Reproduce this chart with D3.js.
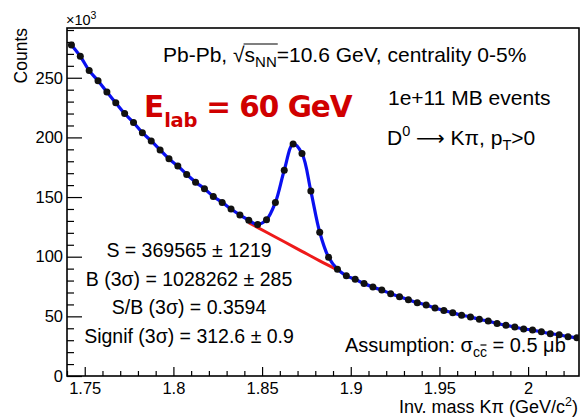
<!DOCTYPE html>
<html>
<head>
<meta charset="utf-8">
<script src="https://cdn.jsdelivr.net/npm/d3@7"></script>
<style>
  html, body { margin: 0; padding: 0; background: #fff; }
  svg { display: block; }
  text { font-family: "Liberation Sans", Arial, Helvetica, sans-serif; fill: #000; }
</style>
</head>
<body>
<svg id="chart" width="580" height="417"></svg>
<script>
// Invariant-mass bin centres (GeV/c^2), bin width 0.005
const massBins = [
  1.7425, 1.7475, 1.7525, 1.7575, 1.7625, 1.7675, 1.7725, 1.7775, 1.7825, 1.7875,
  1.7925, 1.7975, 1.8025, 1.8075, 1.8125, 1.8175, 1.8225, 1.8275, 1.8325, 1.8375,
  1.8425, 1.8475, 1.8525, 1.8575, 1.8625, 1.8675, 1.8725, 1.8775, 1.8825, 1.8875,
  1.8925, 1.8975, 1.9025, 1.9075, 1.9125, 1.9175, 1.9225, 1.9275, 1.9325, 1.9375,
  1.9425, 1.9475, 1.9525, 1.9575, 1.9625, 1.9675, 1.9725, 1.9775, 1.9825, 1.9875,
  1.9925, 1.9975, 2.0025, 2.0075, 2.0125, 2.0175, 2.0225, 2.0275
];
// Counts per bin, in units of 10^3
const counts = [
  277.5, 268.0, 256.0, 247.5, 238.0, 229.0, 220.0, 212.5, 204.0, 197.0,
  189.5, 182.0, 176.0, 169.0, 162.5, 157.0, 150.5, 145.5, 140.0, 135.0,
  130.5, 127.0, 131.0, 145.5, 172.5, 194.5, 186.5, 155.0, 120.5, 99.5,
  89.5, 84.0, 81.0, 77.5, 74.5, 72.0, 69.0, 66.5, 64.0, 61.5,
  59.5, 57.0, 55.0, 53.0, 51.0, 49.5, 47.5, 46.0, 44.0, 42.5,
  41.0, 39.5, 38.5, 37.0, 35.5, 34.5, 33.0, 32.0
];
// Combinatorial background under the peak (units of 10^3)
const bkgMass   = [1.8425, 1.8525, 1.8625, 1.8725, 1.8825, 1.8925];
const bkgCounts = [128.5, 120.5, 112.5, 104.5, 96.5, 89.0];

const xMajorTicks = [1.75, 1.8, 1.85, 1.9, 1.95, 2.0];
const xTickLabels = ["1.75", "1.8", "1.85", "1.9", "1.95", "2"];
const yMajorTicks = [0, 50, 100, 150, 200, 250];
const yTickLabels = ["0", "50", "100", "150", "200", "250"];

const statLines = [
  "S = 369565 \u00B1 1219",
  "B (3\u03C3) = 1028262 \u00B1 285",
  "S/B (3\u03C3) = 0.3594",
  "Signif (3\u03C3) = 312.6 \u00B1 0.9"
];

const svg = d3.select("#chart");
const frame = { left: 67, right: 579, top: 28, bottom: 376 };

const x = d3.scaleLinear().domain([1.74, 2.0287]).range([frame.left, frame.right]);
const y = d3.scaleLinear().domain([0, 291.7]).range([frame.bottom, frame.top]);

// ---- axes -------------------------------------------------------------
const xMinor = d3.range(174, 203).map(v => v / 100).filter(v => !xMajorTicks.some(m => Math.abs(m - v) < 1e-6));
const yMinor = d3.range(0, 292, 10).filter(v => v % 50 !== 0);

const gx = svg.append("g").attr("transform", `translate(0,${frame.bottom})`);
gx.call(d3.axisBottom(x).tickValues(xMinor).tickSizeInner(-5).tickSizeOuter(0).tickFormat(""));
gx.call(g => g.selectAll(".domain").remove());
const gx2 = svg.append("g").attr("transform", `translate(0,${frame.bottom})`);
gx2.call(d3.axisBottom(x).tickValues(xMajorTicks).tickSizeInner(-9).tickSizeOuter(0)
  .tickPadding(6).tickFormat((d, i) => xTickLabels[i]));
gx2.call(g => g.selectAll(".domain").remove());
gx2.selectAll("text").style("font-size", "16.5px").style("font-family", "Liberation Sans, Arial, sans-serif").attr("fill", "#000");

const gy = svg.append("g").attr("transform", `translate(${frame.left},0)`);
gy.call(d3.axisLeft(y).tickValues(yMinor).tickSizeInner(-7).tickSizeOuter(0).tickFormat(""));
gy.call(g => g.selectAll(".domain").remove());
const gy2 = svg.append("g").attr("transform", `translate(${frame.left},0)`);
gy2.call(d3.axisLeft(y).tickValues(yMajorTicks).tickSizeInner(-15).tickSizeOuter(0)
  .tickPadding(4).tickFormat((d, i) => yTickLabels[i]));
gy2.call(g => g.selectAll(".domain").remove());
gy2.selectAll("text").style("font-size", "16.5px").style("font-family", "Liberation Sans, Arial, sans-serif").attr("fill", "#000");

svg.selectAll(".tick line").attr("stroke", "#000").attr("stroke-width", 1.2);

// frame
svg.append("rect")
  .attr("x", frame.left).attr("y", frame.top)
  .attr("width", frame.right - frame.left).attr("height", frame.bottom - frame.top)
  .attr("fill", "none").attr("stroke", "#000").attr("stroke-width", 1.6);

// ---- data -------------------------------------------------------------
svg.append("defs").append("clipPath").attr("id", "plotClip")
  .append("rect").attr("x", frame.left).attr("y", frame.top)
  .attr("width", frame.right - frame.left).attr("height", frame.bottom - frame.top);
const plot = svg.append("g").attr("clip-path", "url(#plotClip)");

const bkgLine = d3.line()
  .x((d, i) => x(bkgMass[i])).y(d => y(d))
  .curve(d3.curveCatmullRom.alpha(0.5));
plot.append("path").datum(bkgCounts)
  .attr("d", bkgLine)
  .attr("fill", "none").attr("stroke", "#ee1a1a").attr("stroke-width", 3);

const fitLine = d3.line()
  .x((d, i) => x(massBins[i])).y(d => y(d))
  .curve(d3.curveCatmullRom.alpha(0.5));
plot.append("path").datum(counts)
  .attr("d", fitLine)
  .attr("fill", "none").attr("stroke", "#0a10f0").attr("stroke-width", 3.2)
  .attr("stroke-linejoin", "round");

plot.selectAll("circle.pt").data(counts).enter().append("circle")
  .attr("class", "pt")
  .attr("cx", (d, i) => x(massBins[i])).attr("cy", d => y(d))
  .attr("r", 3.5).attr("fill", "#111");

// ---- axis titles ------------------------------------------------------
svg.append("text")
  .attr("transform", `translate(27,${frame.top}) rotate(-90)`)
  .attr("text-anchor", "end").style("font-size", "17.5px").text("Counts");

const exp = svg.append("text").attr("x", 66).attr("y", 25).style("font-size", "14.5px");
exp.append("tspan").text("\u00D710");
exp.append("tspan").attr("dy", -6).style("font-size", "10.5px").text("3");

const xt = svg.append("text").attr("x", 578).attr("y", 413)
  .attr("text-anchor", "end").style("font-size", "18px");
xt.append("tspan").text("Inv. mass K\u03C0 (GeV/c");
xt.append("tspan").attr("dy", -7).style("font-size", "12.5px").text("2");
xt.append("tspan").attr("dy", 7).text(")");

// ---- annotations ------------------------------------------------------
const t1 = svg.append("text").attr("x", 163).attr("y", 62).style("font-size", "21px");
t1.append("tspan").text("Pb-Pb, ");
t1.append("tspan").text("\u221A");
t1.append("tspan").text("s");
t1.append("tspan").attr("dy", 5).style("font-size", "15px").text("NN");
t1.append("tspan").attr("dy", -5).text("=10.6 GeV, centrality 0-5%");
{
  const n = t1.node();
  const x0 = n.getEndPositionOfChar(7).x - 1;
  const x1 = n.getEndPositionOfChar(10).x + 1;
  svg.append("line").attr("x1", x0).attr("x2", x1).attr("y1", 44).attr("y2", 44)
    .attr("stroke", "#000").attr("stroke-width", 1.2);
}

const eLab = svg.append("text").attr("x", 144).attr("y", 117)
  .style("font-family", "'DejaVu Sans', sans-serif").style("font-weight", "bold")
  .style("font-size", "29.5px").attr("fill", "#d00000").style("fill", "#d00000");
eLab.append("tspan").text("E");
eLab.append("tspan").attr("dy", 10).style("font-size", "19.5px").style("letter-spacing", "-0.3px").text("lab");
eLab.append("tspan").attr("dy", -10).style("letter-spacing", "-1px").text(" = 60 GeV");

svg.append("text").attr("x", 388).attr("y", 105).style("font-size", "21px").text("1e+11 MB events");

const t3 = svg.append("text").attr("x", 387).attr("y", 145).style("font-size", "21px");
t3.append("tspan").text("D");
t3.append("tspan").attr("dy", -9).style("font-size", "14.5px").text("0");
t3.append("tspan").attr("dy", 9).text(" ");
t3.append("tspan").style("font-family", "'DejaVu Sans', sans-serif").style("font-size", "20px").text("\u27F6");
t3.append("tspan").text(" K\u03C0, p");
t3.append("tspan").attr("dy", 5).style("font-size", "14.5px").text("T");
t3.append("tspan").attr("dy", -5).text(">0");

svg.selectAll("text.stat").data(statLines).enter().append("text")
  .attr("class", "stat")
  .attr("x", 189).attr("y", (d, i) => 257 + i * 28.7)
  .attr("text-anchor", "middle").style("font-size", "19.5px")
  .text(d => d);

const t4 = svg.append("text").attr("x", 345).attr("y", 352).style("font-size", "20px");
t4.append("tspan").text("Assumption: \u03C3");
t4.append("tspan").attr("dy", 5).style("font-size", "14px").text("cc");
t4.append("tspan").attr("dy", -5).text(" = 0.5 \u03BCb");
{
  const n = t4.node();
  const x0 = n.getStartPositionOfChar(14).x + 0.5;
  const x1 = n.getEndPositionOfChar(14).x - 0.5;
  svg.append("line").attr("x1", x0).attr("x2", x1).attr("y1", 345).attr("y2", 345)
    .attr("stroke", "#000").attr("stroke-width", 1.2);
}
</script>
</body>
</html>
